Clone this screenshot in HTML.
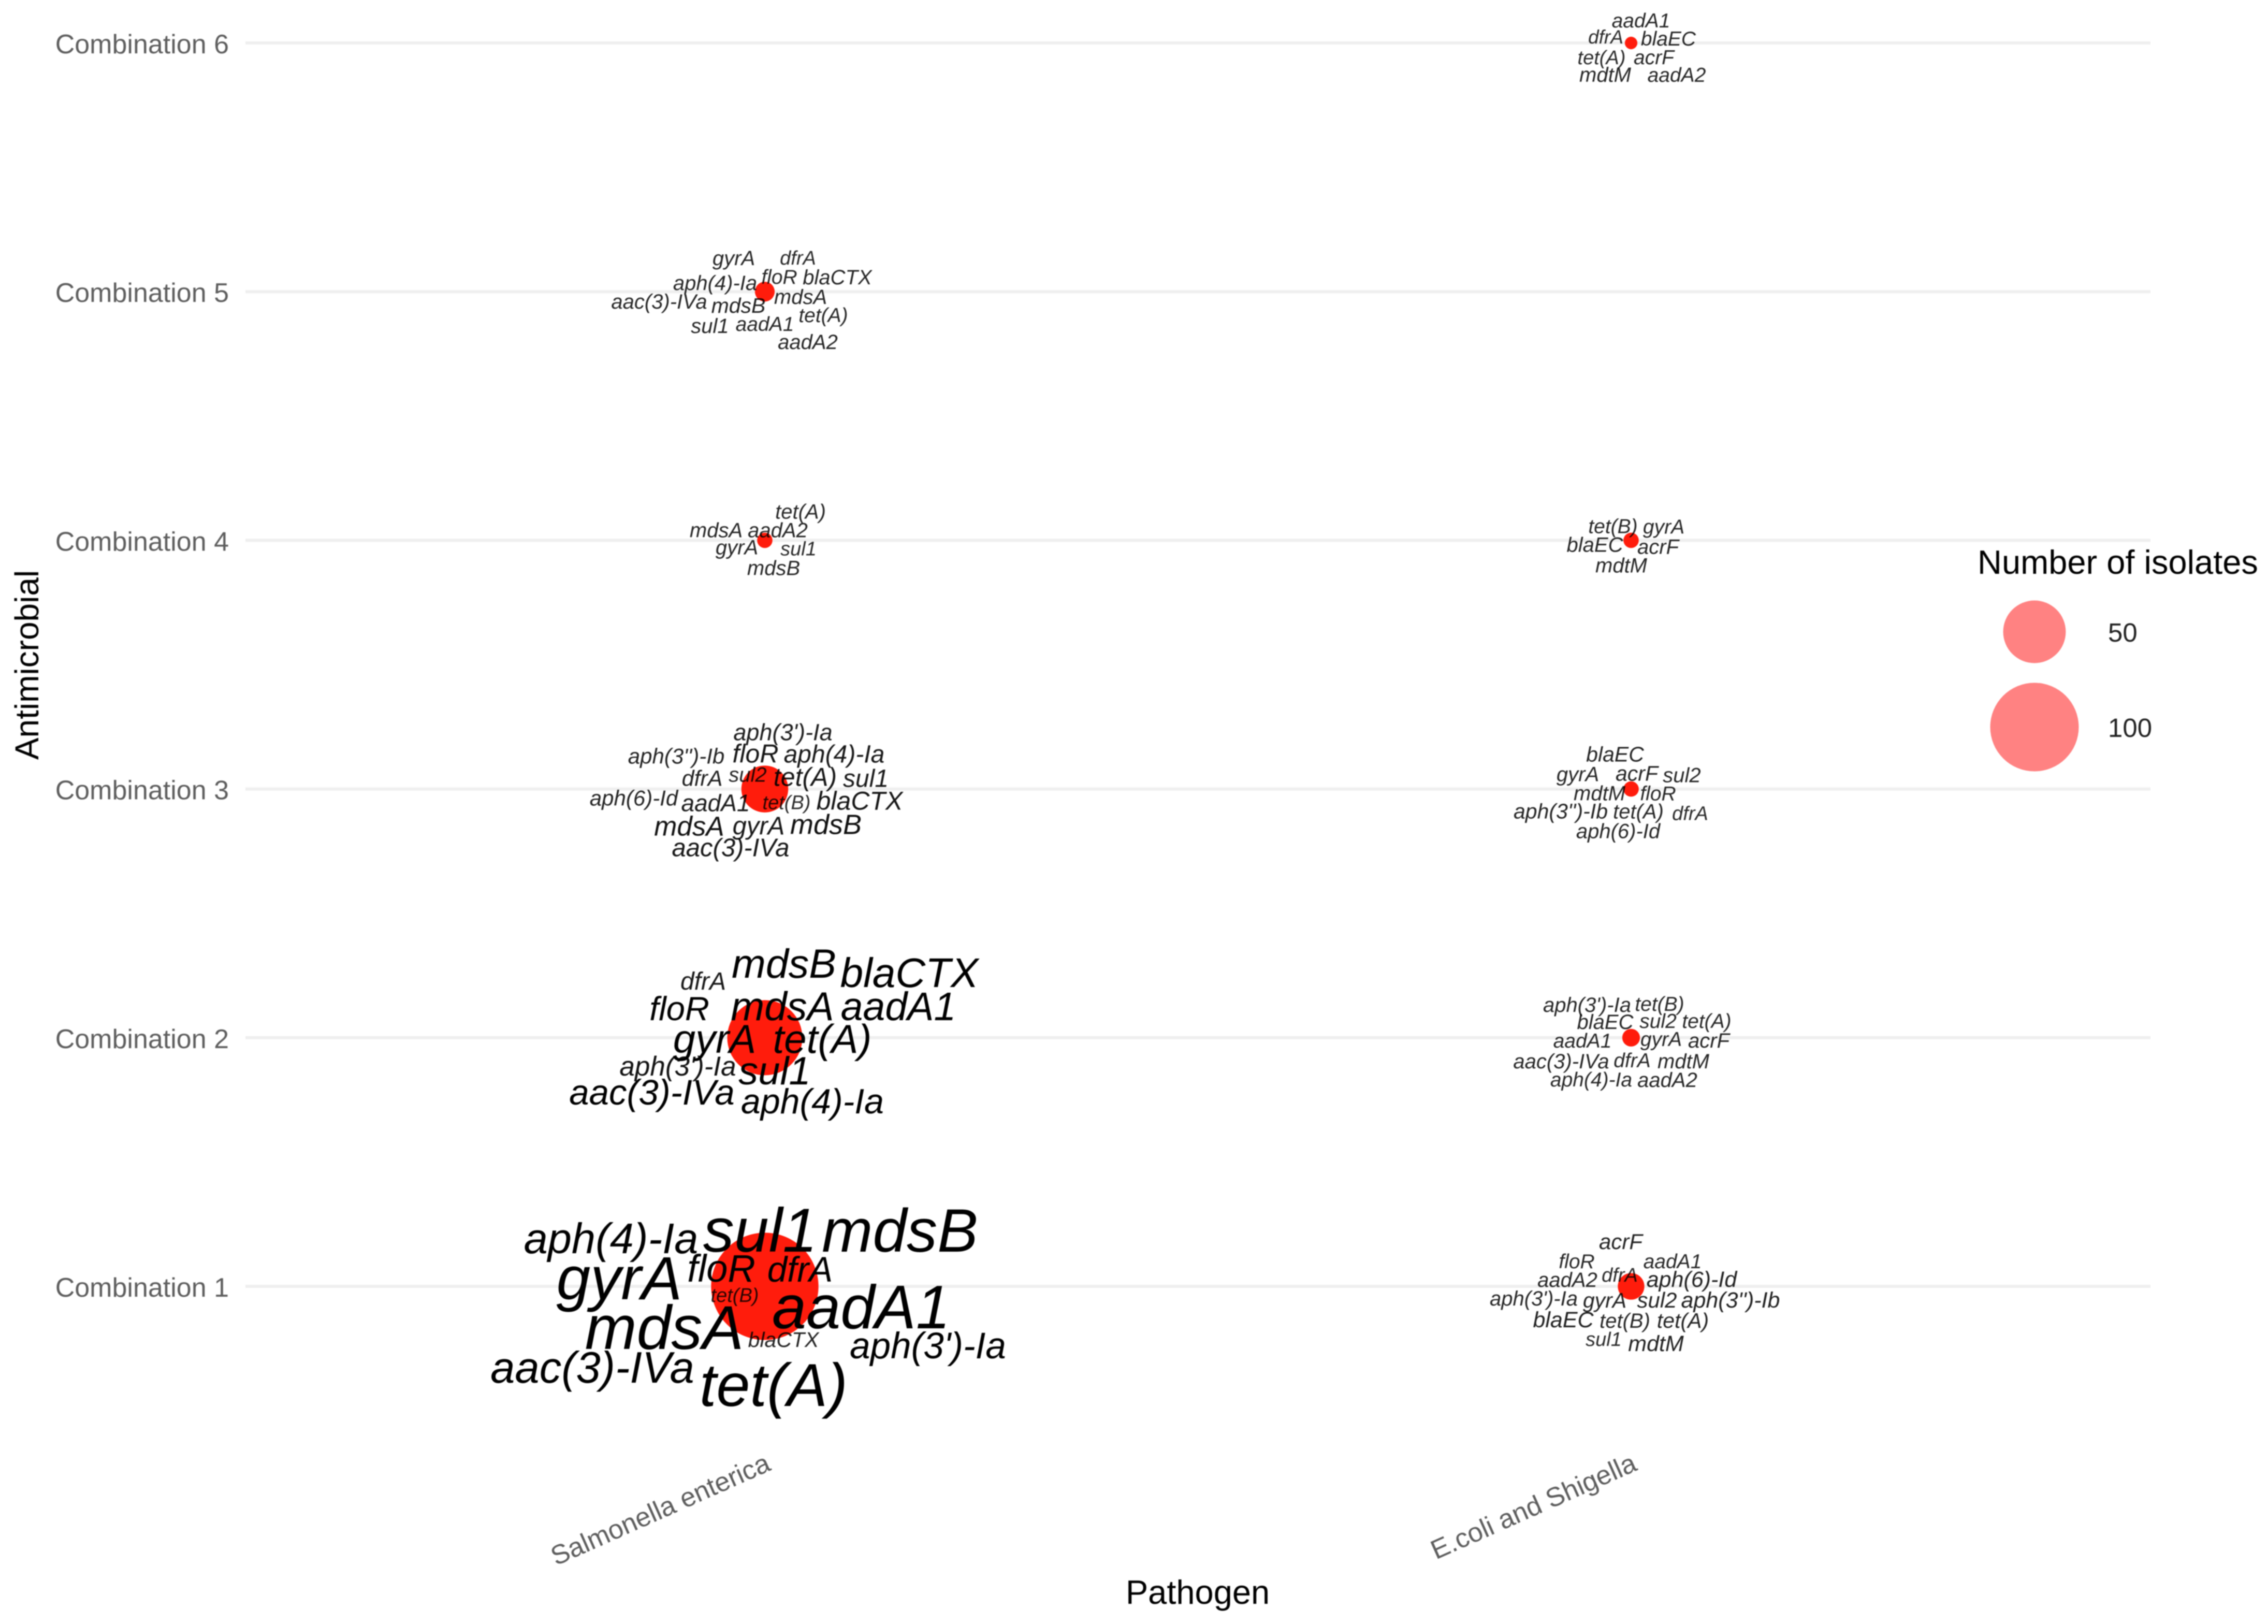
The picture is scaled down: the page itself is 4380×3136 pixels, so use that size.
<!DOCTYPE html>
<html lang="en">
<head>
<meta charset="utf-8">
<title>Antimicrobial resistance gene combinations by pathogen</title>
<style>
  html, body { margin: 0; padding: 0; background: #ffffff; }
  #chart { display: block; width: 4380px; height: 3136px; font-family: "Liberation Sans", Arial, sans-serif; filter: blur(1px); }
</style>
</head>
<body>
<svg id="chart" xmlns="http://www.w3.org/2000/svg" width="4380" height="3136" viewBox="0 0 4380 3136">
  <rect x="0" y="0" width="4380" height="3136" fill="#ffffff"/>
  <g id="grid"></g>
  <g id="yticks"></g>
  <g id="xticks"></g>
  <g id="bubbles"></g>
  <g id="words"></g>
  <text transform="translate(74,1284) rotate(-90)" text-anchor="middle" font-size="64" fill="#000">Antimicrobial</text>
  <text x="2313" y="3097" text-anchor="middle" font-size="65" fill="#000">Pathogen</text>
  <g id="legend">
    <text x="3819" y="1108" font-size="65" fill="#000">Number of isolates</text>
  </g>
</svg>
<script>
// ---- Data ----
const pathogens = ["Salmonella enterica", "E.coli and Shigella"];
const combinations = ["Combination 1", "Combination 2", "Combination 3", "Combination 4", "Combination 5", "Combination 6"];
const isolatesSalmonella = [147, 72, 28, 3, 5, null];
const isolatesEcoli = [9, 4, 3, 3, null, 2];
const legendValues = [50, 100];

const genesS1 = ["aph(4)-Ia","sul1","mdsB","gyrA","floR","dfrA","tet(B)","aadA1","mdsA","blaCTX","aph(3')-Ia","aac(3)-IVa","tet(A)"];
const weightsS1 = [41.5,60,59,59,37,34.5,19,59.5,60,20.5,35.5,42.5,58.5];
const genesS2 = ["dfrA","mdsB","blaCTX","floR","mdsA","aadA1","gyrA","tet(A)","aph(3')-Ia","sul1","aac(3)-IVa","aph(4)-Ia"];
const weightsS2 = [24,39.5,40,32.5,39,38.5,39,39,26.5,38,34.5,34];
const genesS3 = ["aph(3')-Ia","aph(3'')-Ib","floR","aph(4)-Ia","dfrA","sul2","tet(A)","sul1","aph(6)-Id","aadA1","tet(B)","blaCTX","mdsA","gyrA","mdsB","aac(3)-IVa"];
const weightsS3 = [22.5,21,25,24,21.5,20,25,24,21,23,19,25,26.5,24.5,27,24.5];
const genesS4 = ["tet(A)","mdsA","aadA2","gyrA","sul1","mdsB"];
const weightsS4 = [20,20,20,20,19,20];
const genesS5 = ["gyrA","dfrA","floR","blaCTX","aph(4)-Ia","aac(3)-IVa","mdsB","mdsA","tet(A)","sul1","aadA1","aadA2"];
const weightsS5 = [20,19,19.5,20,20,20,20.5,20,19.5,20,19.5,20];
const genesE1 = ["acrF","floR","aadA1","aadA2","dfrA","aph(6)-Id","aph(3')-Ia","gyrA","sul2","aph(3'')-Ib","blaEC","tet(B)","tet(A)","sul1","mdtM"];
const weightsE1 = [21,19.5,19.5,20,19,21.5,20,20.5,21,21.5,21.5,20,20.5,19,21.5];
const genesE2 = ["aph(3')-Ia","tet(B)","blaEC","sul2","tet(A)","aadA1","gyrA","acrF","aac(3)-IVa","dfrA","mdtM","aph(4)-Ia","aadA2"];
const weightsE2 = [20,19.5,20,19.5,19.5,19.5,19.5,20,20,19.5,20,19.5,20];
const genesE3 = ["blaEC","gyrA","acrF","sul2","mdtM","floR","aph(3'')-Ib","tet(A)","dfrA","aph(6)-Id"];
const weightsE3 = [20.5,20,20.5,20,20,19.5,20.5,20,19,20];
const genesE4 = ["tet(B)","gyrA","blaEC","acrF","mdtM"];
const weightsE4 = [19.5,19.5,20,20,20];
const genesE6 = ["aadA1","dfrA","blaEC","tet(A)","acrF","mdtM","aadA2"];
const weightsE6 = [19.5,18.5,19.5,19,19.5,20,19.5];

// ---- Word-cloud placement: each label's offset from its bubble centre ----
const cloudS1 = [[-297,-66],[-9,-69],[261,-69],[-281,23],[-84,-11],[68,-11],[-58,28],[186,79],[-194,119],[36,115],[315,137],[-333,184],[17,229]];
const cloudS2 = [[-119,-95],[37,-118],[279,-100],[-165,-36],[34,-36],[258,-36],[-97,27],[111,27],[-168,71],[19,88],[-218,127],[92,144]];
const cloudS3 = [[35,-96],[-171,-51],[-18,-53],[134,-53],[-121,-8],[-33,-16],[78,-8],[195,-6],[-253,30],[-95,41],[42,37],[183,38],[-146,88],[-12,86],[118,85],[-66,128]];
const cloudS4 = [[69,-44],[-94,-8],[25,-8],[-54,25],[65,27],[17,65]];
const cloudS5 = [[-60,-53],[64,-54],[28,-17],[140,-16],[-96,-5],[-204,31],[-51,39],[69,22],[113,57],[-106,78],[0,74],[83,109]];
const cloudE1 = [[-20,-74],[-105,-37],[80,-37],[-123,-1],[-22,-11],[117,-1],[-188,35],[-51,39],[50,39],[192,39],[-131,77],[-12,78],[100,78],[-53,113],[48,123]];
const cloudE2 = [[-85,-52],[55,-54],[-50,-19],[52,-21],[146,-21],[-94,17],[58,14],[150,17],[-135,57],[2,55],[101,57],[-77,92],[70,93]];
const cloudE3 = [[-31,-55],[-103,-17],[11,-18],[98,-15],[-61,20],[52,20],[-136,55],[14,55],[114,58],[-25,93]];
const cloudE4 = [[-35,-16],[63,-15],[-70,20],[52,24],[-19,60]];
const cloudE6 = [[19,-32],[-49,-1],[72,3],[-57,39],[44,39],[-50,73],[88,73]];

// ---- Scales ----
const NS = "http://www.w3.org/2000/svg";
function xScale(i) { return 1477 + i * 1673; }
function yScale(i) { return 2484 - i * 480.2; }
function rScale(n) { return 8.55 * Math.sqrt(n); }
function fontScale(w) { return w * 2; }
function alphaScale(w) { return Math.min(1, 0.84 + (w - 19) * 0.012); }

function make(tag, attrs, parent, text) {
  const el = document.createElementNS(NS, tag);
  for (const k in attrs) el.setAttribute(k, attrs[k]);
  if (text !== undefined) el.textContent = text;
  parent.appendChild(el);
  return el;
}
function slug(s) {
  return s.toLowerCase().replace(/[^a-z0-9]+/g, "-").replace(/^-|-$/g, "");
}

const gridG = document.getElementById("grid");
const yG = document.getElementById("yticks");
const xG = document.getElementById("xticks");
const bubbleG = document.getElementById("bubbles");
const wordG = document.getElementById("words");
const legendG = document.getElementById("legend");

// Gridlines and y tick labels
combinations.forEach(function (name, i) {
  const line = make("line", { x1: 474, x2: 4153, y1: yScale(i), y2: yScale(i), stroke: "#efefef", "stroke-width": 6 }, gridG);
  
  
  const label = make("text", { x: 442, y: yScale(i) + 20, "text-anchor": "end", "font-size": 52, fill: "#5e5e5e" }, yG, name);
  
  
});

// X tick labels
pathogens.forEach(function (name, i) {
  const px = xScale(i) + 14;
  const py = 2838;
  const label = make("text", { transform: "translate(" + px + "," + py + ") rotate(-24)", "text-anchor": "end", "font-size": 52, fill: "#5e5e5e" }, xG, name);
  
  
});

// Bubbles
[isolatesSalmonella, isolatesEcoli].forEach(function (series, p) {
  series.forEach(function (value, c) {
    if (value === null) return;
    const dot = make("circle", { cx: xScale(p), cy: yScale(c), r: rScale(value), fill: "#ff1c0c" }, bubbleG);
    
    
  });
});

// Gene word clouds
const panels = [
  [0, 0, genesS1, weightsS1, cloudS1],
  [0, 1, genesS2, weightsS2, cloudS2],
  [0, 2, genesS3, weightsS3, cloudS3],
  [0, 3, genesS4, weightsS4, cloudS4],
  [0, 4, genesS5, weightsS5, cloudS5],
  [1, 0, genesE1, weightsE1, cloudE1],
  [1, 1, genesE2, weightsE2, cloudE2],
  [1, 2, genesE3, weightsE3, cloudE3],
  [1, 3, genesE4, weightsE4, cloudE4],
  [1, 5, genesE6, weightsE6, cloudE6]
];
panels.forEach(function (panel) {
  const cx = xScale(panel[0]);
  const cy = yScale(panel[1]);
  panel[2].forEach(function (gene, i) {
    const w = panel[3][i];
    const off = panel[4][i];
    const word = make("text", {
      x: cx + off[0],
      y: cy + off[1] + 2,
      "text-anchor": "middle",
      "font-size": fontScale(w),
      "font-style": "italic",
      fill: "#000",
      "fill-opacity": alphaScale(w)
    }, wordG, gene);
    
    
  });
});

// Legend
legendValues.forEach(function (value, i) {
  const ly = 1220 + i * 184;
  const key = make("circle", { cx: 3929, cy: ly, r: rScale(value), fill: "#ff8282" }, legendG);
  
  
  const label = make("text", { x: 4071, y: ly + 19, "font-size": 51, fill: "#222" }, legendG, String(value));
  
  
});
</script>
</body>
</html>
